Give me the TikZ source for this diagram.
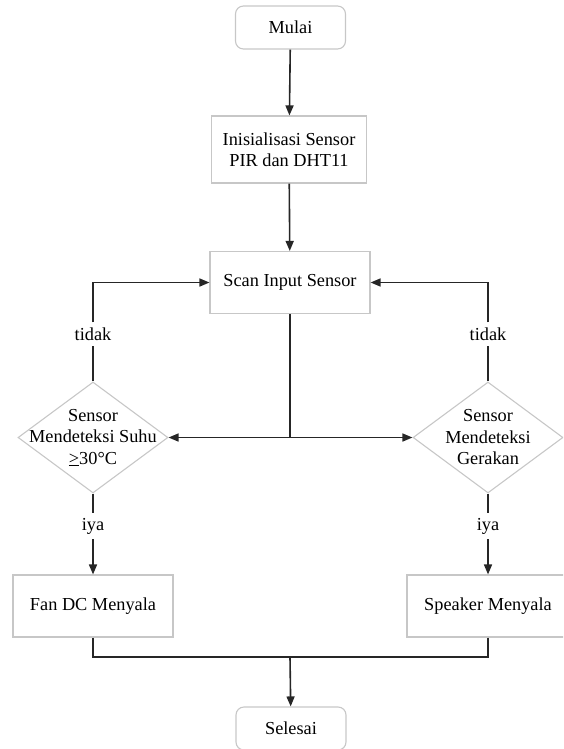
\documentclass[tikz,border=0pt]{standalone}
\usepackage{fontspec}
\setmainfont{LiberationSerif}[Extension=.ttf, UprightFont=*-Regular, BoldFont=*-Bold, ItalicFont=*-Italic, BoldItalicFont=*-BoldItalic]
\usetikzlibrary{shapes.geometric,arrows.meta}
\begin{document}
\begin{tikzpicture}[x=1pt, y=-1pt, font=\fontsize{18.3}{21.5}\selectfont]
  \tikzstyle{box}=[draw=black!22, line width=1.1pt, minimum width=160pt, minimum height=62pt, inner sep=0pt, align=center]
  \tikzstyle{term}=[box, rounded corners=8pt, minimum width=110pt, minimum height=43pt]
  \tikzstyle{cond}=[draw=black!22, line width=1.1pt, diamond, minimum width=150pt, minimum height=111pt, inner sep=0pt]
  \tikzstyle{lbl}=[fill=white, inner sep=5pt]
  \tikzstyle{flow}=[black!85, line width=1.6pt, -{Triangle[width=8pt,length=10pt]}]
  \tikzstyle{line}=[black!85, line width=1.6pt]

\useasboundingbox (0,0) rectangle (563,749);
\clip (0,0) rectangle (563,749);

\node[term] (mulai) at (290.5, 27.5) {Mulai};

\node[box, minimum width=155pt, minimum height=67pt] (init) at (289, 149.5) {Inisialisasi Sensor\\PIR dan DHT11};
\draw[flow] (mulai) -- (init);

\node[box] (scan) at (290, 282.5) {Scan Input Sensor};
\draw[flow] (init) -- (scan);

\coordinate (split) at (290, 437.5);
\draw[line] (scan) -- (split);

\node[cond] (suhu) at (93, 437.5) {};
\node[align=center] (suhut) at (suhu) {Sensor\\Mendeteksi Suhu\\\underline{>}30°C};
\draw[flow] (split) -- (suhu.east);

\node[cond] (gerak) at (488, 437.5) {};
\node[align=center] (gerakt) at (gerak) {Sensor\\Mendeteksi\\Gerakan};
\draw[flow] (split) -- (gerak.west);

\node[lbl] (tidak1) at (93, 334) {tidak};
\draw[line] (suhu) -- (tidak1);
\draw[flow] (tidak1) |- (scan);

\node[lbl] (tidak2) at (488, 334) {tidak};
\draw[line] (gerak) -- (tidak2);
\draw[flow] (tidak2) |- (scan);

\node[lbl] (iya1) at (93, 526) {iya};
\node[box] (fan) at (93, 606) {Fan DC Menyala};
\draw[line] (suhu) -- (iya1);
\draw[flow] (iya1) -- (fan);

\node[lbl] (iya2) at (488, 526) {iya};
\node[box, minimum width=162pt] (spk) at (488, 606) {Speaker Menyala};
\draw[line] (gerak) -- (iya2);
\draw[flow] (iya2) -- (spk);

\coordinate (join) at (290, 657);
\node[term] (selesai) at (291, 728.5) {Selesai};
\draw[line] (fan) |- (join);
\draw[line] (spk) |- (join);
\draw[flow] (join) -- (selesai);
\end{tikzpicture}
\end{document}
